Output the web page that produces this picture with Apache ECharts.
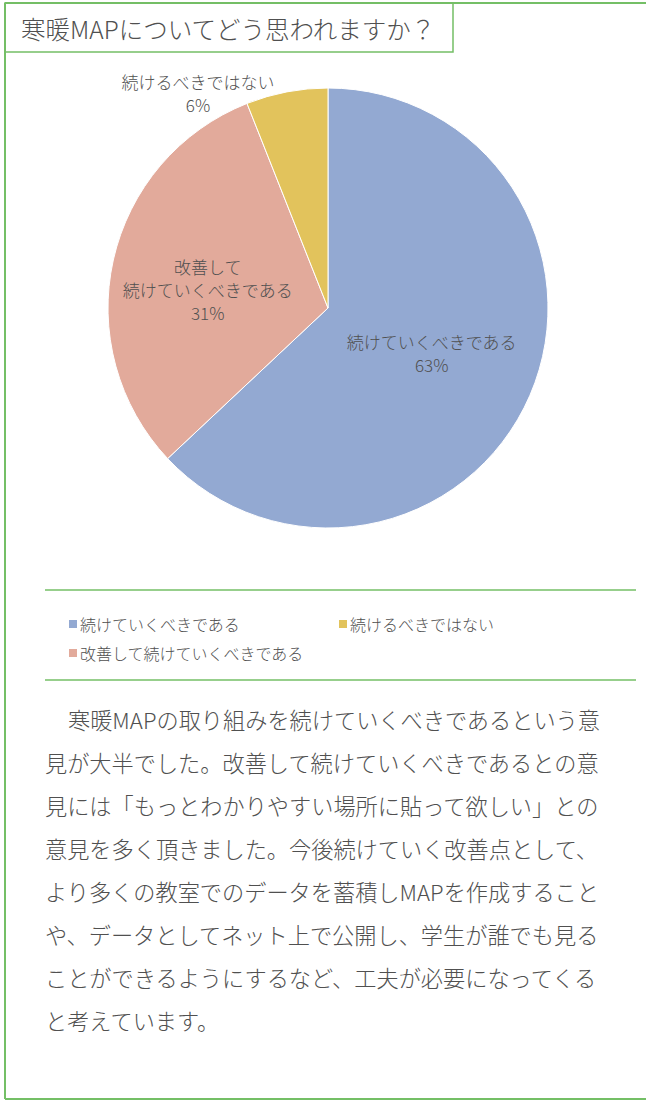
<!DOCTYPE html>
<html><head><meta charset="utf-8">
<script src="https://cdn.jsdelivr.net/npm/echarts@6/dist/echarts.min.js"></script>
<style>html,body{margin:0;padding:0;background:#fff}#c{width:646px;height:1102px}</style>
</head><body><div id="c"></div>
<script>
const titleText = '寒暖MAPについてどう思われますか？';
const categories = ['続けていくべきである', '改善して続けていくべきである', '続けるべきではない'];
const values = [63, 31, 6];
const sliceLabels = ['続けていくべきである', '改善して\n続けていくべきである', '続けるべきではない'];
const colors = ['#93a9d2', '#e2aa9b', '#e2c35c'];
const paragraph = [
  '寒暖MAPの取り組みを続けていくべきであるという意',
  '見が大半でした。改善して続けていくべきであるとの意',
  '見には「もっとわかりやすい場所に貼って欲しい」との',
  '意見を多く頂きました。今後続けていく改善点として、',
  'より多くの教室でのデータを蓄積しMAPを作成すること',
  'や、データとしてネット上で公開し、学生が誰でも見る',
  'ことができるようにするなど、工夫が必要になってくる',
  'と考えています。'
];

const FONT = '"Noto Sans CJK JP", "Noto Sans", sans-serif';
const GREEN = '#74bf66';
const TXT = '#505050';

const chart = echarts.init(document.getElementById('c'), null, {renderer: 'svg'});

const graphic = [
  {type: 'line', shape: {x1: 5, y1: 3, x2: 646, y2: 3}, style: {stroke: GREEN, lineWidth: 2}},
  {type: 'line', shape: {x1: 5, y1: 3, x2: 5, y2: 1099}, style: {stroke: GREEN, lineWidth: 2}},
  {type: 'line', shape: {x1: 5, y1: 1099, x2: 646, y2: 1099}, style: {stroke: GREEN, lineWidth: 2}},
  {type: 'rect', shape: {x: 5, y: 3, width: 448, height: 49}, style: {fill: 'none', stroke: GREEN, lineWidth: 1.5}},
  {type: 'text', x: 21, y: 28, style: {text: titleText, font: '300 24.5px ' + FONT, fill: TXT, verticalAlign: 'middle'}},
  {type: 'line', shape: {x1: 45, y1: 590, x2: 636, y2: 590}, style: {stroke: GREEN, lineWidth: 1.5}},
  {type: 'line', shape: {x1: 45, y1: 680, x2: 636, y2: 680}, style: {stroke: GREEN, lineWidth: 1.5}}
];
paragraph.forEach((line, i) => {
  graphic.push({type: 'text', x: i === 0 ? 68 : 45, y: 719 + i * 43,
    style: {text: line, font: '300 22.2px ' + FONT, fill: TXT, verticalAlign: 'middle'}});
});

const legendPos = [[62, 620], [62, 649], [332, 620]];
const legends = categories.map((name, i) => ({
  left: legendPos[i][0], top: legendPos[i][1] - 9,
  data: [{name: name, icon: 'rect'}],
  itemWidth: 10, itemHeight: 10, itemGap: 0, selectedMode: false,
  textStyle: {fontFamily: FONT, fontSize: 16, fontWeight: 300, color: TXT, padding: [0, 0, 0, -3]}
}));

chart.setOption({
  color: colors,
  animation: false,
  graphic: graphic,
  legend: legends,
  series: [{
    type: 'pie',
    center: [328, 308],
    radius: 220,
    startAngle: 90,
    clockwise: true,
    itemStyle: {borderColor: '#fff', borderWidth: 1},
    label: {
      show: true, position: 'inside',
      fontFamily: FONT, fontSize: 17, fontWeight: 300, color: TXT, lineHeight: 23, align: 'center',
      formatter: p => sliceLabels[p.dataIndex] + '\n' + p.percent + '%'
    },
    labelLine: {show: false},
    labelLayout: p => {
      if (p.dataIndex === 1) return {dx: -10, dy: 6};
      if (p.dataIndex === 2) return {x: 198, y: 93, align: 'center', verticalAlign: 'middle'};
      return {};
    },
    data: categories.map((n, i) => ({name: n, value: values[i]}))
  }]
});
</script></body></html>
